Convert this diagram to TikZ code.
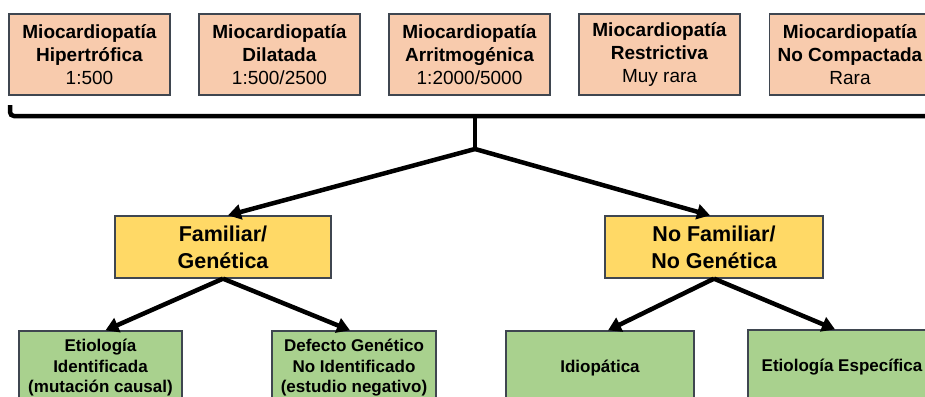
\documentclass[tikz,border=0pt]{standalone}
\usepackage{fontspec}
\setmainfont{Liberation Sans}
\usetikzlibrary{arrows.meta}
\definecolor{peach}{HTML}{F8CBAD}
\definecolor{gold}{HTML}{FFD966}
\definecolor{leaf}{HTML}{A9D18E}
\definecolor{edge}{HTML}{3F4650}
\begin{document}
\begin{tikzpicture}[x=1pt,y=-1pt,
  box/.style={draw=edge,line width=1.3pt,align=center,inner sep=0pt},
  typebox/.style={box,fill=peach,minimum width=161pt,minimum height=81pt,
    font=\fontsize{19}{23}\selectfont},
  groupbox/.style={box,fill=gold,minimum height=62pt,
    font=\bfseries\fontsize{21.5}{27}\selectfont},
  leafbox/.style={box,fill=leaf,minimum height=74pt,
    font=\bfseries\fontsize{17}{20.5}\selectfont},
  bracket/.style={line width=4.5pt,rounded corners=4pt},
  link/.style={line width=4.5pt,-{Triangle[length=13pt,width=15pt]}},
]
\useasboundingbox (0,0) rectangle (925,396);
\clip (0,0) rectangle (925,396);

% cardiomyopathy types
\node[typebox] (hcm) at (89.5,54.5) {\textbf{Miocardiopatía}\\\textbf{Hipertrófica}\\1:500};
\node[typebox] (dcm) at (279.5,54.5) {\textbf{Miocardiopatía}\\\textbf{Dilatada}\\1:500/2500};
\node[typebox] (acm) at (469.5,54.5) {\textbf{Miocardiopatía}\\\textbf{Arritmogénica}\\1:2000/5000};
\node[typebox] (rcm) at (659.5,54.5) {\textbf{Miocardiopatía}\\\textbf{Restrictiva}\\Muy rara};
\node[typebox] (ncm) at (850,54.5) {\textbf{Miocardiopatía}\\\textbf{No Compactada}\\Rara};

% grouping bracket
\coordinate (bl) at (10,105);
\coordinate (br) at (940,116);
\coordinate (stem) at (475,116);
\coordinate (hub) at (475,149);
\draw[bracket] (bl) -- (bl |- br) -- (br);
\draw[line width=4.5pt] (stem) -- (hub);

% familial / non-familial
\node[groupbox,minimum width=216pt] (fam) at (223,247) {Familiar/\\Genética};
\node[groupbox,minimum width=218pt] (nofam) at (714,247) {No Familiar/\\No Genética};

% aetiology boxes
\node[leafbox,minimum width=163pt] (g1) at (100.5,368) {Etiología\\Identificada\\(mutación causal)};
\node[leafbox,minimum width=164pt] (g2) at (354,368) {Defecto Genético\\No Identificado\\(estudio negativo)};
\node[leafbox,minimum width=188pt] (g3) at (600,368) {Idiopática};
\node[leafbox,minimum width=188pt] (g4) at (842,367) {Etiología Específica};

% connectors
\draw[link] (hub) -- ([xshift=5pt]fam.north);
\draw[link] (hub) -- ([xshift=-4pt]nofam.north);
\draw[link] (fam.south) -- ([xshift=5pt]g1.north);
\draw[link] (fam.south) -- ([xshift=-4pt]g2.north);
\draw[link] (nofam.south) -- ([xshift=8pt]g3.north);
\draw[link] (nofam.south) -- ([xshift=-7pt]g4.north);
\end{tikzpicture}
\end{document}
